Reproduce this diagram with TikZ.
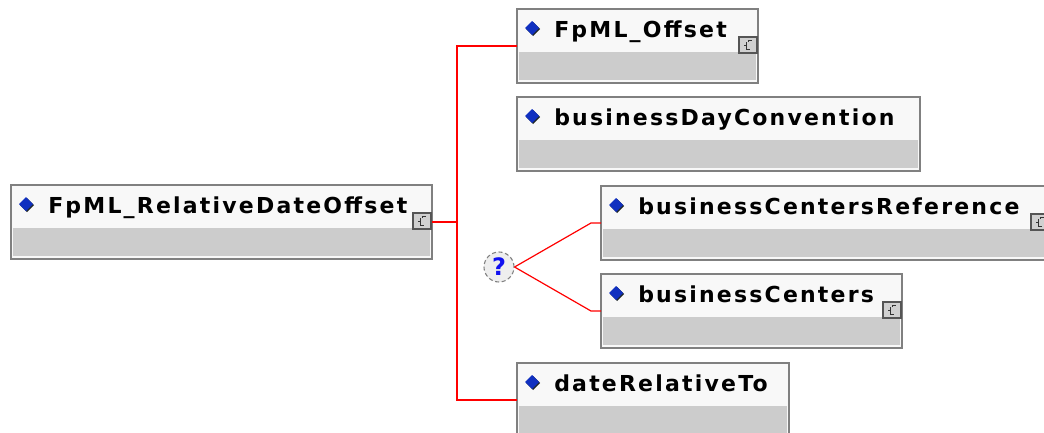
\documentclass[tikz,border=0pt]{standalone}
\usepackage{fontspec}
\newfontfamily\boxfont[LetterSpace=10]{DejaVu Sans}
\newfontfamily\qfont{DejaVu Sans}
\definecolor{boxborder}{HTML}{808080}
\definecolor{headfill}{HTML}{F8F8F8}
\definecolor{bodyfill}{HTML}{CCCCCC}
\definecolor{diamblue}{HTML}{1030C0}
\definecolor{diamshadow}{HTML}{202828}
\definecolor{iconfill}{HTML}{D0D0D0}
\definecolor{iconborder}{HTML}{555555}
\definecolor{chfill}{HTML}{EEEEEE}
\definecolor{qblue}{HTML}{1010F0}
\definecolor{linkred}{HTML}{FF0000}
\tikzset{
  x=0.75pt, y=-0.75pt,
  elbox/.style={rectangle, draw=boxborder, line width=1.5pt, inner sep=0pt, outer sep=0pt,
    minimum height=55.5pt,
    path picture={
      \fill[headfill] (path picture bounding box.south west) rectangle (path picture bounding box.north east);
      \fill[bodyfill] ([shift={(2,-3)}]path picture bounding box.south west) rectangle ([shift={(-2,-31)}]path picture bounding box.south east);
    }},
  lbl/.style={inner sep=0pt, font=\boxfont\bfseries\fontsize{16.5pt}{18pt}\selectfont, text=black},
  conn/.style={draw=linkred, line width=1.5pt},
  choiceline/.style={draw=linkred, line width=0.9pt},
  choice/.style={circle, draw=gray, densely dashed, line width=0.8pt, fill=chfill, minimum size=22.5pt, inner sep=0pt,
    font=\qfont\bfseries\fontsize{18pt}{20pt}\selectfont, text=qblue},
  iconbox/.style={draw=iconborder, fill=iconfill, line width=0.9pt},
  icglyph/.style={draw=black!80, line width=0.5pt},
}
\newcommand\iconat[1]{%
  \draw[iconbox] ([shift={(-19,28)}]#1.north east) rectangle ([shift={(-1,44)}]#1.north east);
  \draw[icglyph] ([shift={(-12,33)}]#1.north east) -- ([shift={(-12,40)}]#1.north east) -- ([shift={(-8,40)}]#1.north east);
  \draw[icglyph] ([shift={(-14,36)}]#1.north east) -- ([shift={(-12,36)}]#1.north east);
  \draw[icglyph] ([shift={(-10,33)}]#1.north east) -- ([shift={(-10,31)}]#1.north east) -- ([shift={(-6,31)}]#1.north east);
}
\newcommand\elembox[6]{%
  \node[elbox, anchor=north west, minimum width={(#4-#2)*0.75pt}] (#1) at (#2,#3) {};
  \fill[diamshadow] ([shift={(16,20)}]#1.north west) ++(0,-7) -- ++(7,7) -- ++(-7,7) -- ++(-7,-7) -- cycle;
  \fill[diamblue] ([shift={(15,19)}]#1.north west) ++(0,-7) -- ++(7,7) -- ++(-7,7) -- ++(-7,-7) -- cycle;
  \node[lbl, anchor=base west] (#1-label) at ([shift={(37,28)}]#1.north west) {#5};
  \ifnum#6=1 \iconat{#1}\fi
}
\begin{document}
\begin{tikzpicture}
\useasboundingbox (0,0) rectangle (1044,432);
\clip (0,0) rectangle (1044,432);
\fill[white] (0,0) rectangle (1044,432);
\coordinate (spine) at (457,0);
\node[choice] (ch) at (499,267) {?};
\elembox{root}{11}{185}{432}{FpML\_RelativeDateOffset}{1}
\elembox{off}{517}{9}{758}{FpML\_Offset}{1}
\elembox{bdc}{517}{97}{920}{businessDayConvention}{0}
\elembox{bcr}{601}{186}{1050}{businessCentersReference}{1}
\elembox{bc}{601}{274}{902}{businessCenters}{1}
\elembox{drt}{517}{363}{789}{dateRelativeTo}{0}
\draw[conn] (root.east) -- (root.east -| spine);
\draw[conn] (off.west) -- (off.west -| spine) -- (drt.west -| spine) -- (drt.west);
\draw[choiceline] (ch.east) -- ([shift={(-10,0)}]bcr.west) -- (bcr.west);
\draw[choiceline] (ch.east) -- ([shift={(-10,0)}]bc.west) -- (bc.west);
\end{tikzpicture}
\end{document}
